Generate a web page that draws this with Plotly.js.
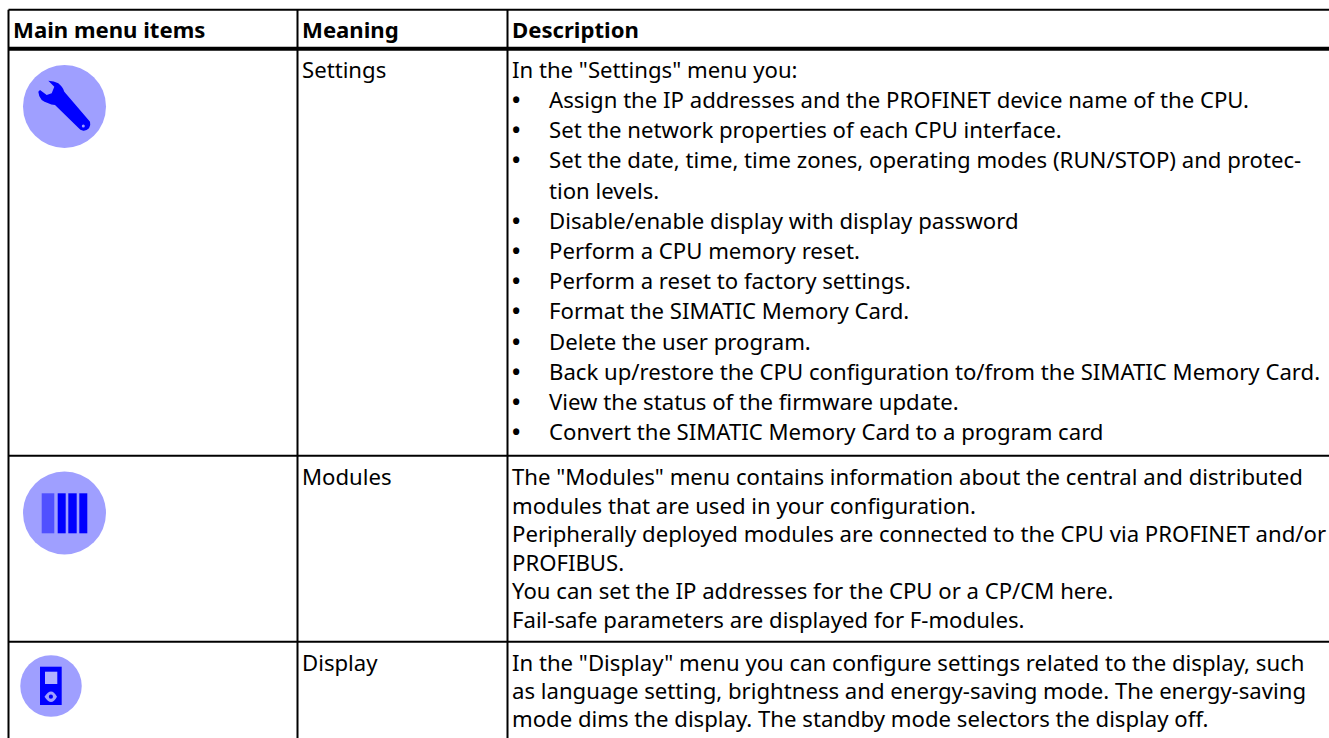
<!DOCTYPE html>
<html><head><meta charset="utf-8">
<script src="https://cdn.plot.ly/plotly-3.0.1.min.js"></script>
<style>html,body{margin:0;padding:0;background:#fff;overflow:hidden}</style></head>
<body><div id="chart" style="width:1329px;height:738px"></div>
<script>
const headers = ["Main menu items","Meaning","Description"];
const meanings = ["Settings","Modules","Display"];
const settingsLines = [
 'In the "Settings" menu you:',
 '• Assign the IP addresses and the PROFINET device name of the CPU.',
 '• Set the network properties of each CPU interface.',
 '• Set the date, time, time zones, operating modes (RUN/STOP) and protec-',
 '  tion levels.',
 '• Disable/enable display with display password',
 '• Perform a CPU memory reset.',
 '• Perform a reset to factory settings.',
 '• Format the SIMATIC Memory Card.',
 '• Delete the user program.',
 '• Back up/restore the CPU configuration to/from the SIMATIC Memory Card.',
 '• View the status of the firmware update.',
 '• Convert the SIMATIC Memory Card to a program card'];
const modulesLines = [
 'The "Modules" menu contains information about the central and distributed',
 'modules that are used in your configuration.',
 'Peripherally deployed modules are connected to the CPU via PROFINET and/or',
 'PROFIBUS.',
 'You can set the IP addresses for the CPU or a CP/CM here.',
 'Fail-safe parameters are displayed for F-modules.'];
const displayLines = [
 'In the "Display" menu you can configure settings related to the display, such',
 'as language setting, brightness and energy-saving mode. The energy-saving',
 'mode dims the display. The standby mode selectors the display off.'];

const FONT='"Noto Sans", sans-serif', FS=22.15;
const colX=[8.5,297.5,507.5,1329], rowY=[9.8,48.8,455.7,641.7,738];
const ann=[];
function t(x,y,text,bold,size){ann.push({xref:'x',yref:'y',x,y,text:bold?'<b>'+text+'</b>':text,showarrow:false,xanchor:'left',yanchor:'middle',align:'left',font:{family:FONT,size:size||FS,color:'#000'}});}
headers.forEach((h,i)=>t(colX[i]+2.5,28.5,h,true));
const rowTop=[68.8,476,662];
meanings.forEach((m,i)=>t(colX[1]+2.5,rowTop[i],m,false));
function block(lines,y0,pitch){lines.forEach((l,i)=>{const y=y0+i*pitch;
  if(l.startsWith('• ')){t(colX[2]+2.5,y,'•',true);t(colX[2]+39,y,l.slice(2));}
  else if(l.startsWith('  ')){t(colX[2]+39,y,l.trim());}
  else t(colX[2]+2.5,y,l);});}
block(settingsLines,rowTop[0],30.2);block(modulesLines,rowTop[1],28.5);block(displayLines,rowTop[2],27.8);
const line=(x0,y0,x1,y1,w)=>({type:'line',xref:'x',yref:'y',x0,y0,x1,y1,line:{color:'#000',width:w}});
const shapes=[
 line(colX[0],rowY[0],1329,rowY[0],2),line(colX[0],rowY[1],1329,rowY[1],4),
 line(colX[0],rowY[2],1329,rowY[2],2),line(colX[0],rowY[3],1329,rowY[3],2),
 line(colX[0],rowY[0],colX[0],738,2),line(colX[1],rowY[0],colX[1],738,2),line(colX[2],rowY[0],colX[2],738,2)];
const fill=(path,c)=>({type:'path',xref:'x',yref:'y',path,fillcolor:c,line:{width:0}});
const BLUE='#0000ff',LAV='#9f9fff';
// icons drawn over the discs
const discs={x:[64.5,64.5,51],y:[106.5,513,686],size:[83,83,61.5]};
shapes.push(fill('M 48.3 80.7 Q 54 81 58.3 83.3 Q 63 87 64.3 91.7 L 90 121.7 Q 91 125 89 128.3 Q 86.5 131 83.3 130.7 Q 80 130 78.3 127.7 L 55 105 Q 51 105 48.3 103.3 Q 44 102 41.7 100 Q 38.5 96 38.3 91.7 L 40 90 L 46.7 95 L 51.7 93.3 L 54.3 86.7 Z',BLUE));
shapes.push({type:'circle',xref:'x',yref:'y',x0:81.8,x1:84.8,y0:124.5,y1:127.5,fillcolor:LAV,line:{width:0}});
shapes.push(fill('M 41.7 493.3 H 54.3 V 533.3 H 41.7 Z','#5050ff'),fill('M 57.7 493.3 H 65.7 V 533.3 H 57.7 Z',BLUE),fill('M 68.3 493.3 H 76.7 V 533.3 H 68.3 Z',BLUE),fill('M 79.3 493.3 H 87.3 V 533.3 H 79.3 Z',BLUE));
shapes.push(fill('M 40 666.7 H 61.7 V 705 H 40 Z',BLUE),fill('M 45 671.7 H 57.3 V 684 H 45 Z','#b0b0ff'),
 fill('M 44.5 696.7 Q 48 691.5 51 691.5 Q 54 691.5 57 696.7 Q 54 702 51 702 Q 48 702 44.5 696.7 Z',LAV));
shapes.push({type:'circle',xref:'x',yref:'y',x0:48.8,x1:53,y0:694.6,y1:698.8,fillcolor:BLUE,line:{width:0}});
const data=[{type:'scatter',mode:'markers',x:discs.x,y:discs.y,
  marker:{color:LAV,opacity:1,size:discs.size,line:{width:0}},hoverinfo:'skip'}];
Plotly.newPlot('chart',data,{width:1329,height:738,margin:{l:0,r:0,t:0,b:0},
 paper_bgcolor:'#fff',plot_bgcolor:'#fff',showlegend:false,
 xaxis:{range:[0,1329],visible:false,fixedrange:true},
 yaxis:{range:[738,0],visible:false,fixedrange:true},
 shapes,annotations:ann},{staticPlot:true,displayModeBar:false});
</script></body></html>
